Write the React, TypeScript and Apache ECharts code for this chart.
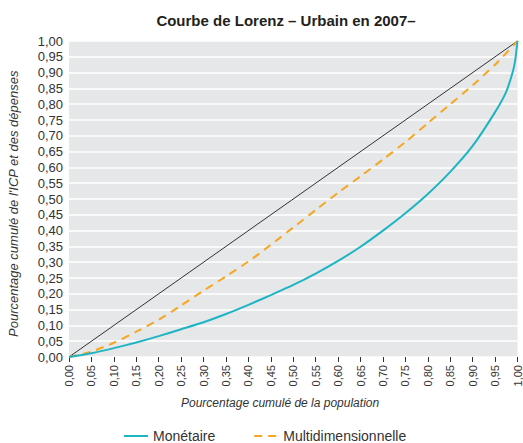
import React, { useEffect, useRef } from "react";
import * as echarts from "echarts";

const populationShares = [0, 0.05, 0.1, 0.15, 0.2, 0.25, 0.3, 0.35, 0.4, 0.45, 0.5, 0.55, 0.6, 0.65, 0.7, 0.75, 0.8, 0.85, 0.9, 0.95, 0.975, 0.99, 0.995, 1];
const monetaire = [0, 0.012, 0.028, 0.046, 0.066, 0.088, 0.11, 0.136, 0.165, 0.196, 0.228, 0.264, 0.304, 0.349, 0.4, 0.455, 0.516, 0.586, 0.668, 0.775, 0.84, 0.905, 0.94, 1];
const multiX = [0, 0.05, 0.1, 0.15, 0.2, 0.25, 0.3, 0.35, 0.4, 0.45, 0.5, 0.55, 0.6, 0.65, 0.7, 0.75, 0.8, 0.85, 0.9, 0.95, 1];
const multidimensionnelle = [0, 0.017, 0.045, 0.08, 0.118, 0.163, 0.21, 0.255, 0.302, 0.355, 0.41, 0.465, 0.52, 0.572, 0.625, 0.68, 0.74, 0.8, 0.86, 0.925, 1];
const equality = [[0, 0], [1, 1]];

const fmt = (v: number) => v.toFixed(2).replace(".", ",");

export default function App() {
  const ref = useRef<HTMLDivElement>(null);
  useEffect(() => {
    const chart = echarts.init(ref.current!, undefined, { renderer: "svg" });
    const font = "Liberation Sans, Arial, sans-serif";
    chart.setOption({
      animation: false,
      backgroundColor: "#ffffff",
      textStyle: { fontFamily: font },
      title: {
        text: "Courbe de Lorenz – Urbain en 2007–",
        left: 281,
        textAlign: "center",
        top: 8,
        textStyle: { fontSize: 15, fontWeight: "bold", color: "#231f20", fontFamily: font },
      },
      grid: { left: 69, right: 3, top: 41, bottom: 86, backgroundColor: "#e6e7e8", show: true, borderWidth: 0 },
      xAxis: {
        type: "value",
        min: 0,
        max: 1,
        interval: 0.05,
        offset: 4,
        axisLine: { show: false },
        axisTick: { show: true, length: 5, lineStyle: { color: "#333" } },
        splitLine: { show: false },
        axisLabel: { rotate: 90, fontSize: 11, color: "#333", margin: 4, formatter: fmt, fontFamily: font },
      },
      yAxis: {
        type: "value",
        min: 0,
        max: 1,
        interval: 0.05,
        axisLine: { show: false },
        axisTick: { show: false },
        splitLine: { show: true, lineStyle: { color: "#ffffff", width: 1.5 } },
        axisLabel: { fontSize: 13, color: "#333", margin: 6, formatter: fmt, fontFamily: font },
      },
      legend: {
        data: ["Monétaire", "Multidimensionnelle"],
        left: 118,
        top: 424,
        itemWidth: 24,
        itemHeight: 10,
        itemGap: 38,
        itemStyle: { opacity: 0 },
        textStyle: { fontSize: 14, color: "#333", fontFamily: font },
      },
      graphic: [
        {
          type: "text",
          left: 181,
          top: 397,
          style: { text: "Pourcentage cumulé de la population", fontSize: 12, fontStyle: "italic", fill: "#333", fontFamily: font },
        },
        {
          type: "text",
          x: 7,
          y: 337,
          rotation: Math.PI / 2,
          style: { text: "Pourcentage cumulé de l'ICP et des dépenses", fontSize: 13, fontStyle: "italic", fill: "#333", fontFamily: font },
        },
      ],
      series: [
        {
          name: "Égalité",
          type: "line",
          data: equality,
          symbol: "none",
          lineStyle: { color: "#333333", width: 1 },
          itemStyle: { color: "#333333" },
          z: 2,
        },
        {
          name: "Multidimensionnelle",
          type: "line",
          data: multiX.map((x, i) => [x, multidimensionnelle[i]]),
          symbol: "none",
          smooth: 0.2,
          lineStyle: { color: "#f5a623", width: 2, type: [8, 6] },
          itemStyle: { color: "#f5a623" },
          z: 3,
        },
        {
          name: "Monétaire",
          type: "line",
          data: populationShares.map((x, i) => [x, monetaire[i]]),
          symbol: "none",
          smooth: 0.2,
          lineStyle: { color: "#1eb4c3", width: 2 },
          itemStyle: { color: "#1eb4c3" },
          z: 4,
        },
      ],
    });
    return () => chart.dispose();
  }, []);
  return <div ref={ref} style={{ width: 523, height: 443, position: "absolute", left: 0, top: 0 }} />;
}
